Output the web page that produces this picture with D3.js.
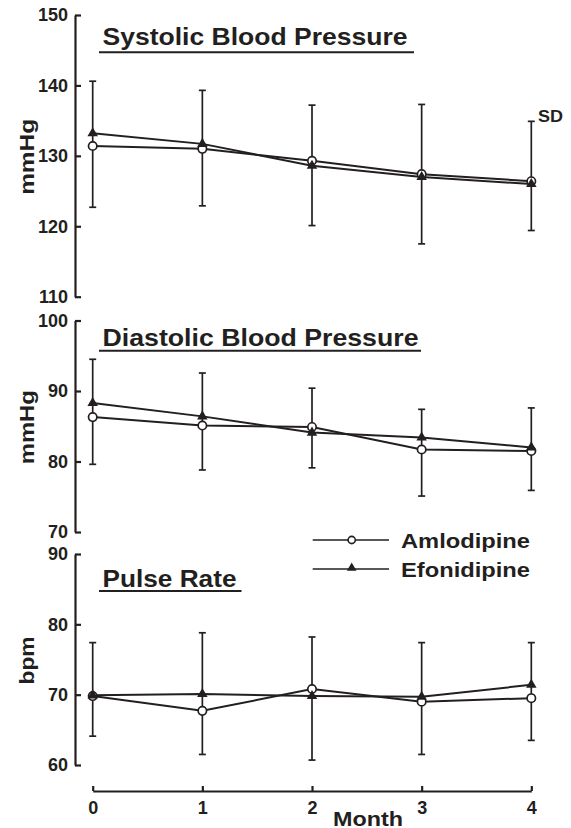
<!DOCTYPE html>
<html>
<head>
<meta charset="utf-8">
<script src="https://cdn.jsdelivr.net/npm/d3@7"></script>
<style>
  body { margin: 0; background: #fff; }
  svg text { font-family: "Liberation Sans", Arial, sans-serif; font-weight: bold; fill: #231f20; }
</style>
</head>
<body>
<svg id="chart" width="571" height="828"></svg>
<script>
var months = [0, 1, 2, 3, 4];
var seriesNames = ['Amlodipine', 'Efonidipine'];

// systolic (mmHg)
var sbpAmlo = [131.4, 131.0, 129.3, 127.4, 126.4];
var sbpEfon = [133.2, 131.7, 128.6, 127.0, 126.0];
var sbpSdUp = [7.4, 7.6, 8.6, 10.3, 8.9];
var sbpSdDown = [8.7, 8.1, 9.2, 9.9, 7.0];

// diastolic (mmHg)
var dbpAmlo = [86.3, 85.1, 84.9, 81.7, 81.5];
var dbpEfon = [88.3, 86.4, 84.1, 83.4, 82.0];
var dbpSdUp = [6.2, 6.15, 6.3, 4.0, 5.6];
var dbpSdDown = [6.7, 6.3, 5.8, 6.6, 5.6];

// pulse (bpm)
var prAmlo = [69.8, 67.7, 70.8, 69.0, 69.5];
var prEfon = [69.9, 70.1, 69.8, 69.7, 71.4];
var prSdUp = [7.5, 8.7, 8.4, 7.7, 6.0];
var prSdDown = [5.7, 6.2, 10.1, 7.5, 6.0];

var sbpTicks = [110, 120, 130, 140, 150];
var dbpTicks = [70, 80, 90, 100];
var prTicks = [60, 70, 80, 90];

var INK = '#231f20';
var svg = d3.select('#chart');
var AXIS_X = 75;

var x = d3.scaleLinear().domain([0, 4]).range([92.7, 531.3]);

var panels = [
  { title: 'Systolic Blood Pressure', titleW: 305, titleY: 45, ulY: 52.3, ulEnd: 414,
    unit: 'mmHg', unitW: 76, domain: [110, 150], range: [296.7, 15], ticks: sbpTicks,
    amlo: sbpAmlo, efon: sbpEfon, up: sbpSdUp, down: sbpSdDown },
  { title: 'Diastolic Blood Pressure', titleW: 316, titleY: 345.5, ulY: 350.7, ulEnd: 421,
    unit: 'mmHg', unitW: 74, domain: [70, 100], range: [532, 320.5], ticks: dbpTicks,
    amlo: dbpAmlo, efon: dbpEfon, up: dbpSdUp, down: dbpSdDown },
  { title: 'Pulse Rate', titleW: 134, titleY: 586.7, ulY: 591, ulEnd: 241.5,
    unit: 'bpm', unitW: 48, domain: [60, 90], range: [765, 554], ticks: prTicks,
    amlo: prAmlo, efon: prEfon, up: prSdUp, down: prSdDown }
];

panels.forEach(function(p) {
  var y = d3.scaleLinear().domain(p.domain).range(p.range);

  var yAxis = d3.axisLeft(y)
    .tickValues(p.ticks)
    .tickSizeInner(-6)
    .tickSizeOuter(0)
    .tickPadding(7)
    .tickFormat(d3.format('d'));

  var g = svg.append('g')
    .attr('transform', 'translate(' + AXIS_X + ',0)')
    .call(yAxis);
  g.select('.domain').attr('stroke', INK).attr('stroke-width', 2.2);
  g.selectAll('.tick line').attr('stroke', INK).attr('stroke-width', 2.2);
  g.selectAll('.tick text')
    .attr('font-size', 18)
    .attr('font-family', '"Liberation Sans", Arial, sans-serif')
    .attr('font-weight', 'bold')
    .attr('fill', INK);

  // title + underline
  svg.append('text')
    .attr('x', 102.5)
    .attr('y', p.titleY)
    .attr('font-size', 24.5)
    .attr('textLength', p.titleW)
    .attr('lengthAdjust', 'spacingAndGlyphs')
    .text(p.title);
  svg.append('line')
    .attr('x1', 99).attr('x2', p.ulEnd)
    .attr('y1', p.ulY).attr('y2', p.ulY)
    .attr('stroke', INK).attr('stroke-width', 2);

  // unit label
  var cy = (p.range[0] + p.range[1]) / 2 + 1;
  svg.append('text')
    .attr('transform', 'translate(34,' + cy + ') rotate(-90)')
    .attr('text-anchor', 'middle')
    .attr('font-size', 20)
    .attr('textLength', p.unitW)
    .attr('lengthAdjust', 'spacingAndGlyphs')
    .text(p.unit);

  // error bars: down from Amlodipine, up from Efonidipine
  var bars = svg.append('g').attr('stroke', INK).attr('stroke-width', 1.7);
  months.forEach(function(m, i) {
    var top = y(p.efon[i] + p.up[i]);
    var bot = y(p.amlo[i] - p.down[i]);
    var lo = Math.max(y(p.efon[i]), y(p.amlo[i]));
    var hi = Math.min(y(p.efon[i]), y(p.amlo[i]));
    bars.append('line').attr('x1', x(m)).attr('x2', x(m)).attr('y1', Math.min(top, hi)).attr('y2', Math.max(bot, lo));
    bars.append('line').attr('x1', x(m) - 3.5).attr('x2', x(m) + 3.5).attr('y1', top).attr('y2', top);
    bars.append('line').attr('x1', x(m) - 3.5).attr('x2', x(m) + 3.5).attr('y1', bot).attr('y2', bot);
  });

  var line = d3.line()
    .x(function(d, i) { return x(months[i]); })
    .y(function(d) { return y(d); });

  [p.amlo, p.efon].forEach(function(vals) {
    svg.append('path')
      .attr('d', line(vals))
      .attr('fill', 'none')
      .attr('stroke', INK)
      .attr('stroke-width', 2);
  });

  svg.append('g').selectAll('circle')
    .data(p.amlo)
    .enter()
    .append('circle')
    .attr('cx', function(d, i) { return x(months[i]); })
    .attr('cy', function(d) { return y(d); })
    .attr('r', 4.2)
    .attr('fill', '#fff')
    .attr('stroke', INK)
    .attr('stroke-width', 1.7);

  svg.append('g').selectAll('path')
    .data(p.efon)
    .enter()
    .append('path')
    .attr('d', d3.symbol().type(d3.symbolTriangle).size(48))
    .attr('transform', function(d, i) { return 'translate(' + x(months[i]) + ',' + y(d) + ')'; })
    .attr('fill', INK);
});

// SD note
svg.append('text')
  .attr('x', 538)
  .attr('y', 121.5)
  .attr('font-size', 17)
  .attr('textLength', 25)
  .attr('lengthAdjust', 'spacingAndGlyphs')
  .text('SD');

// x axis
var xAxis = d3.axisBottom(x)
  .tickValues(months)
  .tickSizeInner(-5)
  .tickSizeOuter(0)
  .tickPadding(10)
  .tickFormat(d3.format('d'));

var gx = svg.append('g')
  .attr('transform', 'translate(0,791)')
  .call(xAxis);
gx.select('.domain').attr('stroke', INK).attr('stroke-width', 2.2);
gx.selectAll('.tick line').attr('stroke', INK).attr('stroke-width', 2.2);
gx.selectAll('.tick text')
  .attr('font-size', 18)
  .attr('font-family', '"Liberation Sans", Arial, sans-serif')
  .attr('font-weight', 'bold')
  .attr('fill', INK);

svg.append('text')
  .attr('x', 368)
  .attr('y', 825.5)
  .attr('text-anchor', 'middle')
  .attr('font-size', 21)
  .attr('textLength', 70)
  .attr('lengthAdjust', 'spacingAndGlyphs')
  .text('Month');

// legend
var legendY = [540, 569];
var legend = svg.append('g');
seriesNames.forEach(function(name, i) {
  var ly = legendY[i];
  legend.append('line')
    .attr('x1', 312.7).attr('x2', 389)
    .attr('y1', ly).attr('y2', ly)
    .attr('stroke', INK).attr('stroke-width', 1.7);
  if (i === 0) {
    legend.append('circle')
      .attr('cx', 351.7).attr('cy', ly).attr('r', 3.6)
      .attr('fill', '#fff').attr('stroke', INK).attr('stroke-width', 1.6);
  } else {
    legend.append('path')
      .attr('d', d3.symbol().type(d3.symbolTriangle).size(40))
      .attr('transform', 'translate(351.7,' + (ly - 1) + ')')
      .attr('fill', INK);
  }
  legend.append('text')
    .attr('x', 401)
    .attr('y', ly + 7.7)
    .attr('font-size', 20.5)
    .attr('textLength', 129)
    .attr('lengthAdjust', 'spacingAndGlyphs')
    .text(name);
});
</script>
</body>
</html>
